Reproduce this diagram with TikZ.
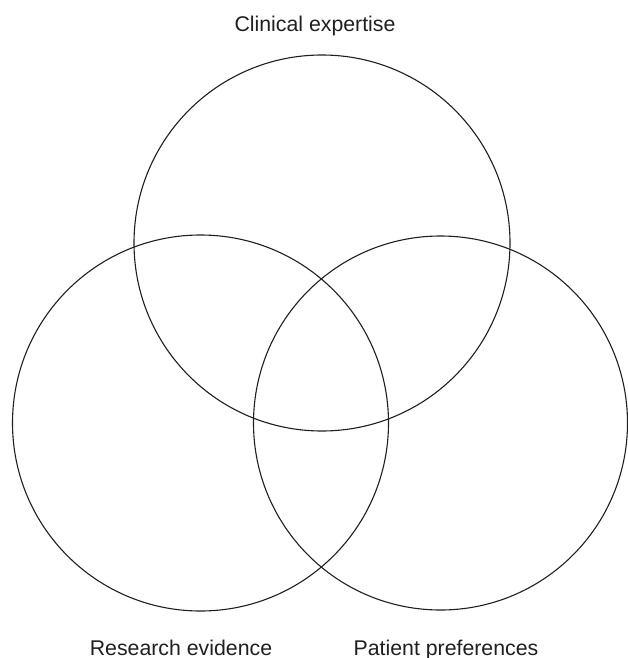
\documentclass[tikz,border=0pt]{standalone}
\usepackage{fontspec}
\setmainfont{Liberation Sans}
\begin{document}
\begin{tikzpicture}[x=1pt,y=-1pt,
  setcircle/.style={circle, draw=black!88, line width=1.1pt, inner sep=0pt, minimum size=#1},
  setlabel/.style={anchor=base, inner sep=0pt, text=black!88,
    font=\fontsize{21.3}{25}\selectfont}]
  \useasboundingbox (0,0) rectangle (628,658);
  % the three overlapping sets
  \node[setcircle=376pt] (clin) at (322,243) {};
  \node[setcircle=376pt] (res)  at (200.5,423) {};
  \node[setcircle=374pt] (pat)  at (440.5,423) {};
  % set labels
  \node[setlabel] (clinlab) at (315,32)  {Clinical expertise};
  \node[setlabel] (reslab)  at (181,655) {Research evidence};
  \node[setlabel] (patlab)  at (446,655) {Patient preferences};
\end{tikzpicture}
\end{document}
